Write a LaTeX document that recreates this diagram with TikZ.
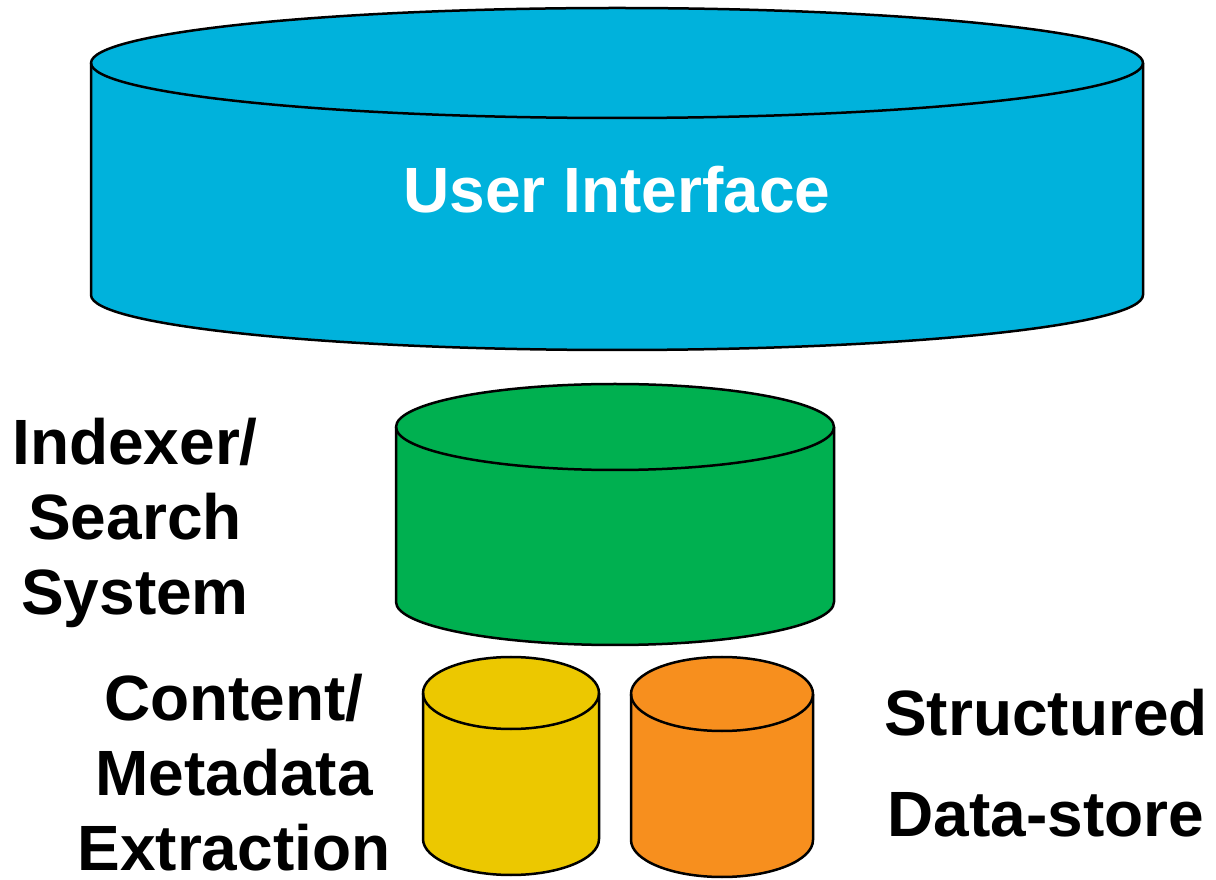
\documentclass[tikz,border=0pt]{standalone}
\usepackage{fontspec}
\setmainfont{Liberation Sans}
\definecolor{uiblue}{RGB}{0,178,220}
\definecolor{idxgreen}{RGB}{0,176,80}
\definecolor{cmyellow}{RGB}{236,200,0}
\definecolor{sdorange}{RGB}{247,143,30}
\tikzset{
  cylline/.style={draw=black, line width=2.5pt, line join=round},
  bigtext/.style={font=\bfseries\fontsize{64}{75}\selectfont, align=center, inner sep=0pt, anchor=base},
}
\begin{document}
\begin{tikzpicture}[x=1pt,y=1pt]
\useasboundingbox (0,0) rectangle (1216,879);
% User Interface cylinder
\fill[uiblue] (91,816) -- (91,584) arc[start angle=180,end angle=360,x radius=526,y radius=55] -- (1143,816) arc[start angle=0,end angle=180,x radius=526,y radius=55] -- cycle;
\draw[cylline] (91,816) -- (91,584) arc[start angle=180,end angle=360,x radius=526,y radius=55] -- (1143,816);
\draw[cylline] (617,816) ellipse[x radius=526,y radius=55];
% Indexer cylinder
\fill[idxgreen] (396,452) -- (396,277) arc[start angle=180,end angle=360,x radius=219,y radius=43] -- (834,452) arc[start angle=0,end angle=180,x radius=219,y radius=43] -- cycle;
\draw[cylline] (396,452) -- (396,277) arc[start angle=180,end angle=360,x radius=219,y radius=43] -- (834,452);
\draw[cylline] (615,452) ellipse[x radius=219,y radius=43];
% Content cylinder
\fill[cmyellow] (423,186) -- (423,40) arc[start angle=180,end angle=360,x radius=88,y radius=36] -- (599,186) arc[start angle=0,end angle=180,x radius=88,y radius=36] -- cycle;
\draw[cylline] (423,186) -- (423,40) arc[start angle=180,end angle=360,x radius=88,y radius=36] -- (599,186);
\draw[cylline] (511,186) ellipse[x radius=88,y radius=36];
% Structured cylinder
\fill[sdorange] (631,185) -- (631,39) arc[start angle=180,end angle=360,x radius=91,y radius=37] -- (813,185) arc[start angle=0,end angle=180,x radius=91,y radius=37] -- cycle;
\draw[cylline] (631,185) -- (631,39) arc[start angle=180,end angle=360,x radius=91,y radius=37] -- (813,185);
\draw[cylline] (722,185) ellipse[x radius=91,y radius=37];
% Labels (base anchor = baseline of last line)
\node[bigtext, text=white] (uilabel) at (617,666) {User Interface};
\node[bigtext] (idxlabel) at (135,264) {Indexer/\\Search\\System};
\node[bigtext] (cmlabel) at (234,9) {Content/\\Metadata\\Extraction};
\node[bigtext, font=\bfseries\fontsize{64}{101}\selectfont] (sdlabel) at (1046,43) {Structured\\Data-store};
\end{tikzpicture}
\end{document}
